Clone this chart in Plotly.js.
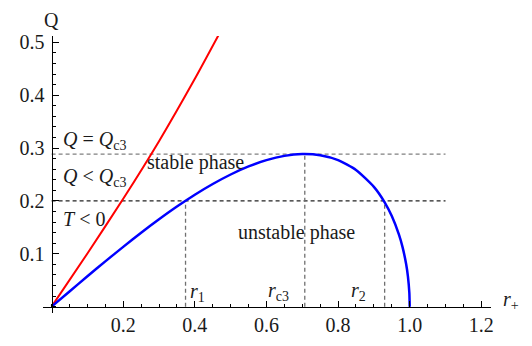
<!DOCTYPE html>
<html>
<head>
<meta charset="utf-8">
<script src="https://cdn.plot.ly/plotly-3.0.1.min.js"></script>
<style>
  html, body { margin: 0; padding: 0; background: #fff; }
  #chart { width: 532px; height: 346px; }
</style>
</head>
<body>
<div id="chart"></div>
<script>
// phase boundary Q(r+) (blue) and T = 0 line (red)
const blueR = [0, 0.05, 0.1, 0.15, 0.2, 0.25, 0.3, 0.35, 0.4, 0.45, 0.5, 0.55, 0.6, 0.65, 0.7, 0.75, 0.8, 0.85, 0.9, 0.93, 0.95, 0.97, 0.98, 0.99, 0.995, 0.999, 1.0];
const blueQ = [0, 0.0288, 0.0575, 0.0856, 0.1131, 0.1398, 0.1652, 0.1893, 0.2117, 0.2320, 0.2500, 0.2652, 0.2771, 0.2852, 0.2886, 0.2864, 0.2771, 0.2585, 0.2265, 0.1974, 0.1713, 0.1361, 0.1126, 0.0806, 0.0574, 0.0258, 0];
const redR = [0, 0.1, 0.2, 0.3, 0.4, 0.468];
const redQ = [0, 0.1005, 0.204, 0.313, 0.431, 0.516];

// critical values
const Qc3 = 0.2887;
const Qlow = 0.2;
const r1 = 0.374, rc3 = 0.707, r2 = 0.93;
const xDashEnd = 1.1;

const xTicks = [0.2, 0.4, 0.6, 0.8, 1.0, 1.2];
const xTickText = ['0.2', '0.4', '0.6', '0.8', '1.0', '1.2'];
const yTicks = [0.1, 0.2, 0.3, 0.4, 0.5];
const yTickText = ['0.1', '0.2', '0.3', '0.4', '0.5'];

const xRange = [-0.024, 1.227];
const yRange = [-0.012, 0.512];

const serif = 'Liberation Serif';
const ink = '#1a1a1a';

const traces = [
  { x: redR, y: redQ, mode: 'lines', type: 'scatter', line: { color: '#ff0000', width: 2, shape: 'spline', smoothing: 0.6 } },
  { x: blueR, y: blueQ, mode: 'lines', type: 'scatter', line: { color: '#0000ff', width: 2.5, shape: 'spline', smoothing: 0.6 } }
];

function dashLine(x0, y0, x1, y1, color) {
  return { type: 'line', xref: 'x', yref: 'y', x0: x0, y0: y0, x1: x1, y1: y1,
           line: { color: color, width: 1.3, dash: '4px,3px' }, layer: 'below' };
}

const shapes = [
  dashLine(0, Qc3, xDashEnd, Qc3, '#808080'),
  dashLine(0, Qlow, xDashEnd, Qlow, '#222222'),
  dashLine(r1, 0, r1, Qlow, '#707070'),
  dashLine(rc3, 0, rc3, Qc3, '#707070'),
  dashLine(r2, 0, r2, Qlow, '#707070')
];

function label(x, y, text, anchor) {
  return { x: x, y: y, xref: 'x', yref: 'y', text: text, showarrow: false,
           xanchor: anchor || 'left', yanchor: 'middle',
           font: { family: serif, size: 20, color: ink } };
}

const annotations = [
  label(0.025, 0.314, '<i>Q</i> = <i>Q</i><sub>c3</sub>'),
  label(0.025, 0.245, '<i>Q</i> &lt; <i>Q</i><sub>c3</sub>'),
  label(0.025, 0.166, '<i>T</i> &lt; 0'),
  label(0.26, 0.273, 'stable phase'),
  label(0.515, 0.141, 'unstable phase'),
  label(0.38, 0.027, '<i>r</i><sub>1</sub>'),
  label(0.6, 0.029, '<i>r</i><sub>c3</sub>'),
  label(0.83, 0.029, '<i>r</i><sub>2</sub>'),
  { x: 0, y: 1.0, xref: 'x', yref: 'paper', yshift: 3, text: 'Q', showarrow: false,
    xanchor: 'center', yanchor: 'bottom', font: { family: serif, size: 20, color: ink } },
  { x: 1.0, y: 0, xref: 'paper', yref: 'y', xshift: 10, yshift: 6, text: '<i>r</i><sub>+</sub>', showarrow: false,
    xanchor: 'left', yanchor: 'middle', font: { family: serif, size: 20, color: ink } }
];

const layout = {
  width: 532,
  height: 346,
  margin: { l: 43, r: 41, t: 36, b: 33, pad: 0 },
  paper_bgcolor: '#ffffff',
  plot_bgcolor: '#ffffff',
  showlegend: false,
  hovermode: false,
  font: { family: serif, size: 20, color: ink },
  xaxis: {
    range: xRange,
    anchor: 'free',
    position: (0 - yRange[0]) / (yRange[1] - yRange[0]),
    showgrid: false,
    zeroline: false,
    showline: true,
    linecolor: '#000',
    linewidth: 1,
    tickmode: 'array',
    tickvals: xTicks,
    ticktext: xTickText,
    tickfont: { family: serif, size: 20, color: ink },
    ticks: 'inside',
    ticklen: 6,
    tickcolor: '#000',
    ticklabelstandoff: 0,
    minor: { dtick: 0.05, tick0: 0, ticks: 'inside', ticklen: 3, tickcolor: '#000', showgrid: false }
  },
  yaxis: {
    range: yRange,
    anchor: 'free',
    position: (0 - xRange[0]) / (xRange[1] - xRange[0]),
    showgrid: false,
    zeroline: false,
    showline: true,
    linecolor: '#000',
    linewidth: 1,
    tickmode: 'array',
    tickvals: yTicks,
    ticktext: yTickText,
    tickfont: { family: serif, size: 20, color: ink },
    ticks: 'inside',
    ticklen: 6,
    tickcolor: '#000',
    ticklabelstandoff: 3,
    minor: { dtick: 0.02, tick0: 0, ticks: 'inside', ticklen: 3, tickcolor: '#000', showgrid: false }
  },
  shapes: shapes,
  annotations: annotations
};

Plotly.newPlot('chart', traces, layout, { staticPlot: true, displayModeBar: false });
</script>
</body>
</html>
